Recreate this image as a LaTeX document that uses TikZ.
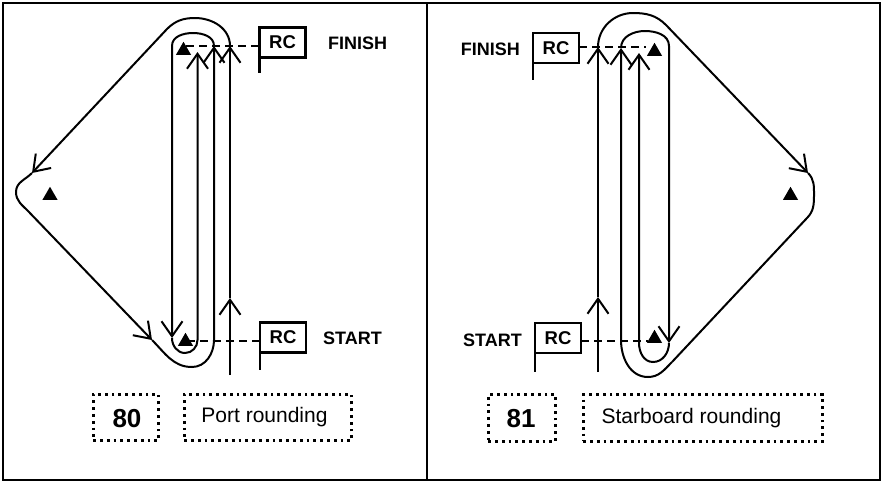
\documentclass[tikz,border=0pt]{standalone}
\usepackage{fontspec}
\setmainfont{Liberation Sans}
\usetikzlibrary{arrows.meta,shapes.geometric}
\begin{document}
\begin{tikzpicture}[x=1pt,y=1pt,
  course/.style={line width=2pt, line join=round},
  arr/.style={-{Straight Barb[length=15pt,width=21pt]}},
  buoy/.style={regular polygon, regular polygon sides=3, fill=black, inner sep=0pt, minimum size=17.5pt},
  flagbox/.style={draw, line width=2.8pt, minimum width=46pt, minimum height=30pt, inner sep=0pt, outer sep=0pt, font=\fontsize{18.5}{20}\selectfont\bfseries},
  pole/.style={line width=2.8pt},
  lineset/.style={line width=1.6pt, dash pattern=on 8pt off 5pt},
  lbl/.style={font=\fontsize{18}{20}\selectfont\bfseries, inner sep=0pt},
  dotbox/.style={draw, line width=2.6pt, dash pattern=on 2.8pt off 4pt, inner sep=0pt, outer sep=0pt, minimum height=46.5pt},
  numtxt/.style={font=\fontsize{26}{28}\selectfont\bfseries, inner sep=0pt},
  captxt/.style={font=\fontsize{21}{24}\selectfont, inner sep=0pt}
]
\useasboundingbox (0,0) rectangle (885,-483);
% frame
\draw[line width=2.8pt] (3,-3) rectangle (880,-480);
\draw[line width=2.8pt] (427,-3) -- (427,-480);

%%%%%%%%%%%%%%%% LEFT PANEL %%%%%%%%%%%%%%%%
\node[buoy] (lt) at (183.5,-50.5) {};
\node[buoy] (lb) at (185.5,-341.5) {};
\node[buoy] (lw) at (50,-195.5) {};

\node[flagbox] (lf1) at (282.5,-42.5) {RC};
\node[flagbox] (lf2) at (283,-337.5) {RC};
\draw[pole] (lf1.south west) -- ++(0,-15);
\draw[pole] (lf2.south west) -- ++(0,-17);
\node[lbl, anchor=west] (lfin) at (328,-43) {FINISH};
\node[lbl, anchor=west] (lsta) at (323,-338) {START};

\coordinate (ld1) at (186,-46);
\draw[lineset] (ld1) -- (lf1.west |- ld1);
\coordinate (ld2) at (187,-341);
\draw[lineset] (ld2) -- (lf2.west |- ld2);

% course
\coordinate (la0) at (230,-375);
\coordinate (la1) at (230,-298);
\coordinate (la2) at (230,-46);
\draw[course,arr] (la0) -- (la1);
\draw[course,arr] (la1) -- (la2);
\coordinate (la3) at (195,-18);
\coordinate (la4) at (167,-29);
\coordinate (la5) at (32,-173);
\draw[course,arr] (la2) to[out=90,in=0] (la3) to[out=180,in=45] (la4) -- (la5);
\coordinate (la6) at (16,-192);
\coordinate (la7) at (28,-211);
\coordinate (la8) at (152,-340);
\draw[course,arr] (la5) to[out=225,in=90] (la6) to[out=270,in=135] (la7) -- (la8);
\coordinate (la9) at (192,-367);
\coordinate (la10) at (214,-340);
\coordinate (la11) at (214,-46);
\draw[course,arr] (la8) to[out=-45,in=180] (la9) to[out=0,in=-90] (la10) -- (la11);
\coordinate (la12) at (193,-33);
\coordinate (la13) at (172,-46);
\coordinate (la14) at (172,-338);
\draw[course,arr] (la11) to[out=90,in=0] (la12) to[out=180,in=90] (la13) -- (la14);
\coordinate (la15) at (185,-353);
\coordinate (la16) at (197.5,-340);
\coordinate (la17) at (197.5,-52);
\draw[course,arr] (la14) to[out=-90,in=180] (la15) to[out=0,in=-90] (la16) -- (la17);

\node[dotbox, minimum width=65.5pt] (lnb) at (126,-417.5) {};
\node[numtxt] (lnum) at (127,-418.5) {80};
\node[dotbox, minimum width=167.5pt] (lcb) at (268,-417.5) {};
\node[captxt] (lcap) at (264.5,-417) {Port rounding};

%%%%%%%%%%%%%%%% RIGHT PANEL %%%%%%%%%%%%%%%%
\node[buoy] (rt) at (654.5,-51.5) {};
\node[buoy] (rb) at (654.5,-338.5) {};
\node[buoy] (rw) at (790.5,-195.5) {};

\node[flagbox] (rf1) at (556,-48) {RC};
\node[flagbox] (rf2) at (558,-338) {RC};
\draw[pole] (rf1.south west) -- ++(0,-17);
\draw[pole] (rf2.south west) -- ++(0,-19);
\node[lbl, anchor=east] (rfin) at (520,-49) {FINISH};
\node[lbl, anchor=east] (rsta) at (522,-340) {START};

\coordinate (rd1) at (646,-47);
\draw[lineset] (rf1.east |- rd1) -- (rd1);
\coordinate (rd2) at (648,-341);
\draw[lineset] (rf2.east |- rd2) -- (rd2);

% course
\coordinate (ra0) at (598,-372);
\coordinate (ra1) at (598,-297);
\coordinate (ra2) at (598,-47);
\draw[course,arr] (ra0) -- (ra1);
\draw[course,arr] (ra1) -- (ra2);
\coordinate (ra3) at (633,-13);
\coordinate (ra4) at (666,-25);
\coordinate (ra5) at (808,-173);
\draw[course,arr] (ra2) to[out=90,in=180] (ra3) to[out=0,in=135] (ra4) -- (ra5);
\coordinate (ra6) at (814,-195);
\coordinate (ra7) at (807,-218);
\coordinate (ra8) at (672,-362);
\coordinate (ra9) at (648,-377);
\coordinate (ra10) at (621,-340);
\coordinate (ra11) at (621,-48);
\draw[course] (ra5) to[out=-45,in=90] (ra6) to[out=-90,in=45] (ra7) -- (ra8);
\draw[course,arr] (ra8) to[out=225,in=0] (ra9) to[out=180,in=-90] (ra10) -- (ra11);
\coordinate (ra12) at (645,-31);
\coordinate (ra13) at (669,-46);
\coordinate (ra14) at (669,-343);
\draw[course,arr] (ra11) to[out=90,in=180] (ra12) to[out=0,in=90] (ra13) -- (ra14);
\coordinate (ra15) at (653,-362);
\coordinate (ra16) at (639,-343);
\coordinate (ra17) at (639,-53);
\draw[course,arr] (ra14) to[out=-90,in=0] (ra15) to[out=180,in=-90] (ra16) -- (ra17);

\node[dotbox, minimum width=67.5pt] (rnb) at (522,-418) {};
\node[numtxt] (rnum) at (521,-418.5) {81};
\node[dotbox, minimum width=239.5pt] (rcb) at (703,-418) {};
\node[captxt] (rcap) at (691.5,-418) {Starboard rounding};
\end{tikzpicture}
\end{document}
